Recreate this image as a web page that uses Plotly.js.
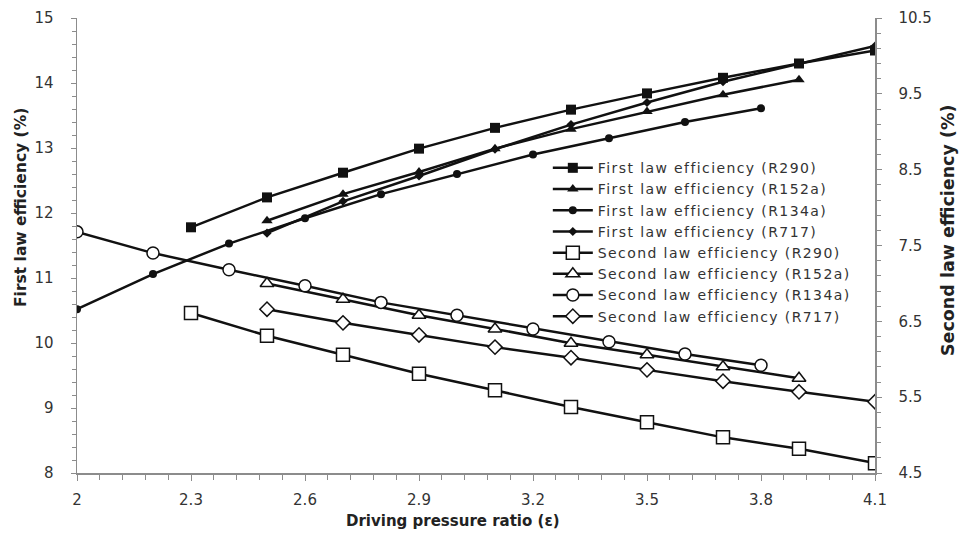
<!DOCTYPE html>
<html><head><meta charset="utf-8">
<script src="https://cdn.plot.ly/plotly-3.0.1.min.js"></script>
<style>html,body{margin:0;padding:0;background:#fff}#chart{width:959px;height:533px}
#chart .legendtext{letter-spacing:1.4px}
#chart .legend .scrollbox{clip-path:none !important}</style>
</head><body><div id="chart"></div>
<script>
// Driving pressure ratio values
const xR290 = [2.3, 2.5, 2.7, 2.9, 3.1, 3.3, 3.5, 3.7, 3.9, 4.1];
const xR152a = [2.5, 2.7, 2.9, 3.1, 3.3, 3.5, 3.7, 3.9];
const xR134a = [2.0, 2.2, 2.4, 2.6, 2.8, 3.0, 3.2, 3.4, 3.6, 3.8];
const xR717 = [2.5, 2.7, 2.9, 3.1, 3.3, 3.5, 3.7, 3.9, 4.1];

// First law efficiency (%) - left axis
const firstR290 = [11.78, 12.24, 12.62, 12.99, 13.31, 13.59, 13.84, 14.08, 14.3, 14.5];
const firstR152a = [11.88, 12.29, 12.63, 12.99, 13.29, 13.56, 13.82, 14.05];
const firstR134a = [10.52, 11.06, 11.53, 11.92, 12.29, 12.6, 12.9, 13.15, 13.4, 13.61];
const firstR717 = [11.69, 12.18, 12.57, 12.98, 13.36, 13.7, 14.02, 14.3, 14.57];

// Second law efficiency (%) - right axis
const secondR290 = [6.61, 6.31, 6.06, 5.81, 5.59, 5.37, 5.17, 4.97, 4.82, 4.63];
const secondR152a = [7.0, 6.79, 6.58, 6.4, 6.21, 6.06, 5.9, 5.75];
const secondR134a = [7.68, 7.4, 7.18, 6.97, 6.75, 6.58, 6.4, 6.23, 6.07, 5.92];
const secondR717 = [6.66, 6.48, 6.32, 6.16, 6.02, 5.86, 5.71, 5.57, 5.44];

const names = [
  'First law efficiency (R290)', 'First law efficiency (R152a)',
  'First law efficiency (R134a)', 'First law efficiency (R717)',
  'Second law efficiency (R290)', 'Second law efficiency (R152a)',
  'Second law efficiency (R134a)', 'Second law efficiency (R717)'
];
const xTitle = 'Driving pressure ratio (ε)';
const yTitle = 'First law efficiency (%)';
const y2Title = 'Second law efficiency (%)';

const LC = '#111';
function tr(x, y, name, sym, size, filled, yaxis) {
  return {
    x: x, y: y, name: name, type: 'scatter', mode: 'lines+markers', yaxis: yaxis,
    line: {color: LC, width: 2.5},
    marker: {symbol: sym, size: size, color: filled ? LC : '#fff', line: {color: LC, width: filled ? 0 : 1.5}}
  };
}

const data = [
  tr(xR290, firstR290, names[0], 'square', 10, true, 'y'),
  tr(xR152a, firstR152a, names[1], 'triangle-up', 10, true, 'y'),
  tr(xR134a, firstR134a, names[2], 'circle', 8, true, 'y'),
  tr(xR717, firstR717, names[3], 'diamond', 7, true, 'y'),
  tr(xR290, secondR290, names[4], 'square', 13, false, 'y2'),
  tr(xR152a, secondR152a, names[5], 'triangle-up', 12, false, 'y2'),
  tr(xR134a, secondR134a, names[6], 'circle', 12, false, 'y2'),
  tr(xR717, secondR717, names[7], 'diamond', 11, false, 'y2')
];

const FONT = 'DejaVu Sans, sans-serif';
const AX = '#8c8c8c';
const TC = '#333';
const layout = {
  width: 959, height: 533,
  margin: {l: 77, r: 84, t: 18, b: 60},
  paper_bgcolor: '#fff', plot_bgcolor: '#fff',
  font: {family: FONT, color: TC, size: 15},
  showlegend: true,
  legend: {x: 0.59, y: 0.705, xanchor: 'left', yanchor: 'top', bgcolor: 'rgba(0,0,0,0)',
    font: {size: 14, color: '#333'}, tracegroupgap: 0, itemwidth: 40},
  xaxis: {
    range: [2, 4.1], tick0: 2, dtick: 0.3, showgrid: false, zeroline: false,
    showline: true, linecolor: AX, linewidth: 1.5, ticks: 'outside', ticklen: 6, tickcolor: AX,
    tickfont: {size: 15, color: TC}, ticklabelstandoff: 6,
    minor: {dtick: 0.06, tick0: 2, ticks: 'outside', ticklen: 5, tickcolor: AX, showgrid: false}
  },
  yaxis: {
    range: [8, 15], dtick: 1, showgrid: false, zeroline: false,
    showline: true, linecolor: AX, linewidth: 1.5, ticks: 'outside', ticklen: 5, tickcolor: AX,
    tickfont: {size: 15, color: TC}, ticklabelstandoff: 14,
    minor: {dtick: 0.2, ticks: 'outside', ticklen: 4, tickcolor: AX, showgrid: false}
  },
  yaxis2: {
    overlaying: 'y', side: 'right', range: [4.5, 10.5], tick0: 0.5, dtick: 1, showgrid: false, zeroline: false,
    showline: true, linecolor: AX, linewidth: 1.5, ticks: 'outside', ticklen: 5, tickcolor: AX,
    tickfont: {size: 15, color: TC}, ticklabelstandoff: 14,
    minor: {dtick: 0.2, tick0: 0.5, ticks: 'outside', ticklen: 4, tickcolor: AX, showgrid: false}
  },
  annotations: [
    {text: '<b>' + xTitle + '</b>', xref: 'paper', yref: 'paper', x: (453 - 77) / 798, y: -(521 - 473) / 455,
     xanchor: 'center', yanchor: 'middle', showarrow: false, font: {size: 15, color: '#222'}},
    {text: '<b>' + yTitle + '</b>', xref: 'paper', yref: 'paper', x: (21 - 77) / 798, y: 1 - (208 - 18) / 455,
     xanchor: 'center', yanchor: 'middle', textangle: -90, showarrow: false, font: {size: 15.5, color: '#222'}},
    {text: '<b>' + y2Title + '</b>', xref: 'paper', yref: 'paper', x: (948 - 77) / 798, y: 1 - (230 - 18) / 455,
     xanchor: 'center', yanchor: 'middle', textangle: -90, showarrow: false, font: {size: 17.5, color: '#222'}}
  ]
};

Plotly.newPlot('chart', data, layout, {displayModeBar: false, staticPlot: true});
</script>
</body></html>
